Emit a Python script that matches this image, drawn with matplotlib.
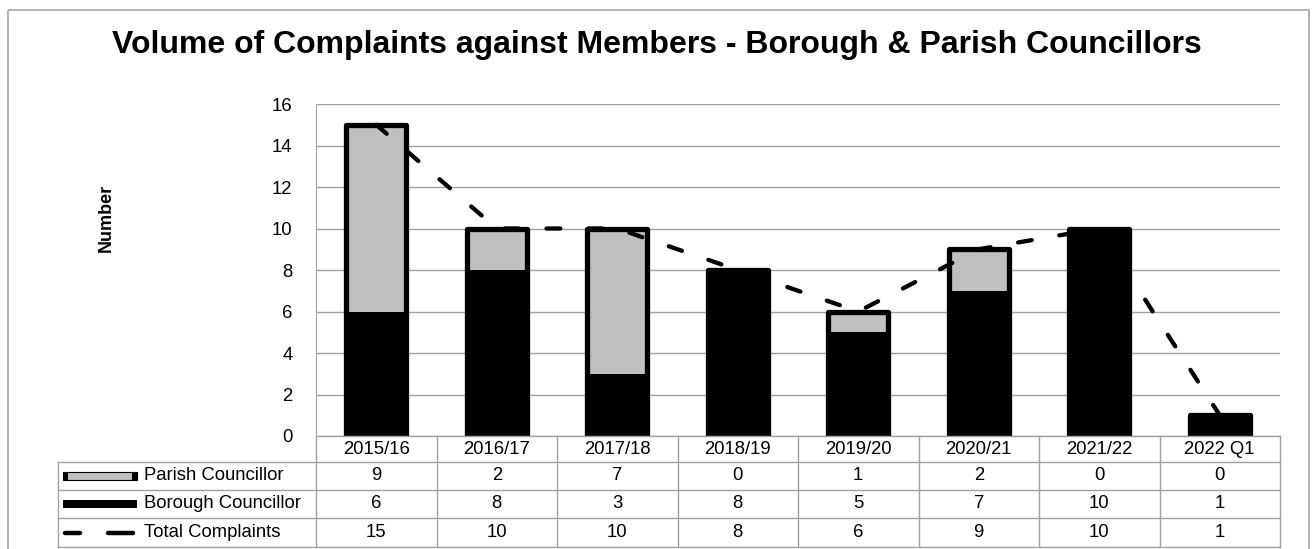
import matplotlib
matplotlib.use("Agg")
import matplotlib.pyplot as plt
from matplotlib.patches import Rectangle
from matplotlib.lines import Line2D
from matplotlib.transforms import Affine2D, blended_transform_factory
import numpy as np

plt.rcParams['font.family'] = ['Liberation Sans', 'DejaVu Sans']

categories = ["2015/16", "2016/17", "2017/18", "2018/19", "2019/20", "2020/21", "2021/22", "2022 Q1"]
parish = [9, 2, 7, 0, 1, 2, 0, 0]
borough = [6, 8, 3, 8, 5, 7, 10, 1]
total = [15, 10, 10, 8, 6, 9, 10, 1]
row_names = ["Parish Councillor", "Borough Councillor", "Total Complaints"]
yticks = [0, 2, 4, 6, 8, 10, 12, 14, 16]

W, H = 1312, 549
fs = 13.3
fig = plt.figure(figsize=(W / 100, H / 100), dpi=100)
# pixel coords, origin top-left
pix = Affine2D().scale(1 / W, -1 / H).translate(0, 1) + fig.transFigure

grey_line = '#a0a0a0'
parish_col = '#c0c0c0'

# outer chart frame
fig.patches.append(Rectangle((8, 10), 1301, 560, transform=pix, fill=False,
                             edgecolor='#a6a6a6', lw=1.2))

left, top, right, bottom = 316, 104, 1280, 436
ax = fig.add_axes([left / W, 1 - bottom / H, (right - left) / W, (bottom - top) / H])

x = np.arange(len(categories))
ax.bar(x, borough, width=0.5, color='black', zorder=2)
ax.bar(x, parish, bottom=borough, width=0.5, color=parish_col, zorder=2)
ax.bar(x, total, width=0.5, fill=False, edgecolor='black', lw=3.8,
       joinstyle='round', zorder=3)
ax.plot(x, total, color='black', lw=3.1, linestyle=(0, (3.2, 6.5)),
        dash_capstyle='round', zorder=4)

ax.set_xlim(-0.5, len(categories) - 0.5)
ax.set_ylim(0, 16)
ax.set_yticks(yticks)
ax.set_yticklabels([str(v) for v in yticks], fontsize=fs)
ax.tick_params(axis='y', length=0, pad=17)
ax.set_xticks([])
ax.grid(axis='y', color=grey_line, lw=1, zorder=0)
for s in ['top', 'right', 'bottom']:
    ax.spines[s].set_visible(False)
ax.spines['left'].set_color(grey_line)
ax.set_axisbelow(True)

fig.text(106 / W, 1 - 218 / H, "Number", rotation=90, fontsize=13, fontweight='bold',
         ha='center', va='center')
fig.text(657 / W, 1 - 53 / H,
         "Volume of Complaints against Members - Borough & Parish Councillors",
         fontsize=23, fontweight='bold', ha='center', va='baseline')

# data table
bt = blended_transform_factory(ax.transData, pix)
rows_y = [436, 462, 490, 518, 547]
n = len(categories)
fig.lines.append(Line2D([left, right], [rows_y[0]] * 2, transform=pix, color=grey_line, lw=1))
for yy in rows_y[1:]:
    fig.lines.append(Line2D([58, right], [yy] * 2, transform=pix, color=grey_line, lw=1))
fig.lines.append(Line2D([58, 58], [rows_y[1], rows_y[-1]], transform=pix, color=grey_line, lw=1))
for i in range(n + 1):
    ax.add_line(Line2D([i - 0.5, i - 0.5], [rows_y[0], rows_y[-1]], transform=bt,
                       color=grey_line, lw=1, clip_on=False))
for i, c in enumerate(categories):
    ax.text(i, (rows_y[0] + rows_y[1]) / 2, c, transform=bt, ha='center', va='center', fontsize=fs)
for r, vals in enumerate([parish, borough, total]):
    yc = (rows_y[r + 1] + rows_y[r + 2]) / 2
    for i, v in enumerate(vals):
        ax.text(i, yc, str(v), transform=bt, ha='center', va='center', fontsize=fs)
    fig.text(144 / W, 1 - yc / H, row_names[r], ha='left', va='center', fontsize=fs)

# legend keys
ky = (rows_y[1] + rows_y[2]) / 2
fig.patches.append(Rectangle((63, ky - 4), 74, 8, transform=pix, facecolor=parish_col,
                             edgecolor='black', lw=0.8))
fig.patches.append(Rectangle((63, ky - 4), 5, 8, transform=pix, facecolor='black', lw=0))
fig.patches.append(Rectangle((132, ky - 4), 5, 8, transform=pix, facecolor='black', lw=0))
ky = (rows_y[2] + rows_y[3]) / 2
fig.patches.append(Rectangle((63, ky - 4), 74, 8, transform=pix, facecolor='black', lw=0))
ky = (rows_y[3] + rows_y[4]) / 2
for x0, x1 in [(65, 80), (108, 133)]:
    fig.lines.append(Line2D([x0, x1], [ky, ky], transform=pix, color='black', lw=3.2,
                            solid_capstyle='round'))

fig.savefig("out.png", dpi=100)
